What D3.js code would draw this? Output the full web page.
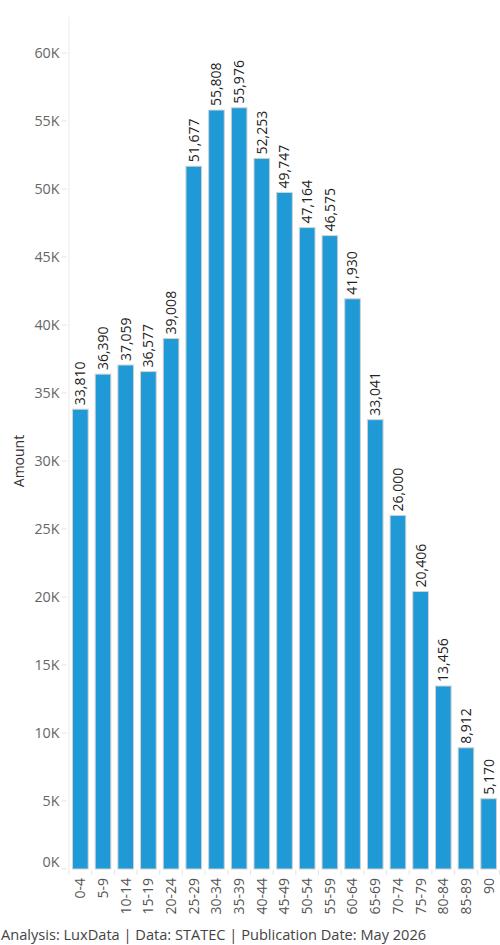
<!DOCTYPE html>
<html><head><meta charset="utf-8">
<script src="https://cdn.jsdelivr.net/npm/d3@7"></script>
<style>body{margin:0;background:#fff;} svg{display:block;font-family:"Open Sans",sans-serif;}</style>
</head><body>
<svg id="c" width="500" height="945"></svg>
<script>
const categories = ["0-4","5-9","10-14","15-19","20-24","25-29","30-34","35-39","40-44","45-49","50-54","55-59","60-64","65-69","70-74","75-79","80-84","85-89","90"];
const values = [33810,36390,37059,36577,39008,51677,55808,55976,52253,49747,47164,46575,41930,33041,26000,20406,13456,8912,5170];
const yTicks = [0,5000,10000,15000,20000,25000,30000,35000,40000,45000,50000,55000,60000];
const footer = "Analysis: LuxData | Data: STATEC | Publication Date: May 2026";

const svg = d3.select("#c");
const L = 69, R = 500, T = 17, B = 869;
const x = d3.scaleBand().domain(categories).range([L, R]).paddingInner(0).paddingOuter(0);
const y = d3.scaleLinear().domain([0, 62650]).range([B, T]);
const step = x.step(), bw = step * 0.69;
const fmt = d3.format(",");

// y axis line
svg.append("line").attr("x1", L).attr("x2", L).attr("y1", T).attr("y2", B + 1)
  .attr("stroke", "#ebebeb").attr("stroke-width", 1);

// y ticks
const yt = svg.append("g");
yTicks.forEach(t => {
  yt.append("line").attr("x1", 62).attr("x2", 67).attr("y1", y(t)).attr("y2", y(t)).attr("stroke", "#e4e4e4");
  yt.append("text").attr("x", 59.5).attr("y", y(t) - (t === 0 ? 7 : 0)).attr("dy", "0.35em")
    .attr("text-anchor", "end").attr("font-size", 14.3).attr("fill", "#666")
    .text((t / 1000) + "K");
});

// x ticks at boundaries
categories.forEach((c, i) => {
  const xb = x(c);
  svg.append("line").attr("x1", xb).attr("x2", xb).attr("y1", B + 1).attr("y2", B + 6).attr("stroke", "#e4e4e4");
});
svg.append("line").attr("x1", R - 0.5).attr("x2", R - 0.5).attr("y1", B + 1).attr("y2", B + 6).attr("stroke", "#e4e4e4");

// bars
svg.append("g").selectAll("rect").data(values).join("rect")
  .attr("x", (d, i) => x(categories[i]) + (step - bw) / 2)
  .attr("width", bw)
  .attr("y", d => y(d))
  .attr("height", d => B - y(d))
  .attr("fill", "#1f9ad7")
  .attr("stroke", "#d2d2d2").attr("stroke-width", 1);

// value labels
svg.append("g").selectAll("text").data(values).join("text")
  .attr("transform", (d, i) => `translate(${x(categories[i]) + step / 2},${y(d) - 4}) rotate(-90)`)
  .attr("dy", "0.35em").attr("text-anchor", "start")
  .attr("font-size", 14).attr("fill", "#222")
  .text(d => fmt(d));

// x labels
svg.append("g").selectAll("text").data(categories).join("text")
  .attr("transform", c => `translate(${x(c) + step / 2},${B + 9}) rotate(-90)`)
  .attr("dy", "0.35em").attr("text-anchor", "end")
  .attr("font-size", 14).attr("fill", "#555")
  .text(c => c);

// y title
svg.append("text").attr("transform", `translate(19,461) rotate(-90)`)
  .attr("dy", "0.35em").attr("text-anchor", "middle")
  .attr("font-size", 14).attr("fill", "#333").text("Amount");

// footer
svg.append("text").attr("x", 1).attr("y", 940).attr("font-size", 14.6).attr("fill", "#444").text(footer);
</script>
</body></html>
